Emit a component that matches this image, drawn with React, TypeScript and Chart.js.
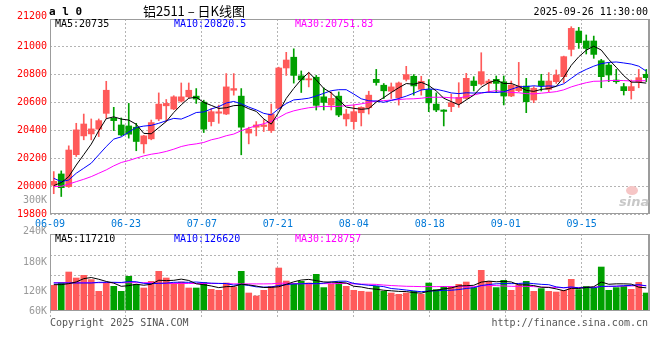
import React, { useEffect, useRef } from "react";
import { Chart, registerables } from "chart.js";

Chart.register(...registerables);

const dates = [
  "06-09","06-10","06-11","06-12","06-13","06-16","06-17","06-18","06-19","06-20",
  "06-23","06-24","06-25","06-26","06-27","06-30","07-01","07-02","07-03","07-04",
  "07-07","07-08","07-09","07-10","07-11","07-14","07-15","07-16","07-17","07-18",
  "07-21","07-22","07-23","07-24","07-25","07-28","07-29","07-30","07-31","08-01",
  "08-04","08-05","08-06","08-07","08-08","08-11","08-12","08-13","08-14","08-15",
  "08-18","08-19","08-20","08-21","08-22","08-25","08-26","08-27","08-28","08-29",
  "09-01","09-02","09-03","09-04","09-05","09-08","09-09","09-10","09-11","09-12",
  "09-15","09-16","09-17","09-18","09-19","09-22","09-23","09-24","09-25","09-26",
];

const opens = [
  20005,20086,19995,20224,20358,20372,20406,20519,20484,20436,
  20429,20420,20301,20337,20479,20573,20550,20606,20637,20642,
  20599,20460,20520,20514,20684,20642,20378,20420,20425,20396,
  20555,20843,20920,20787,20758,20777,20637,20578,20642,20479,
  20460,20523,20559,20762,20720,20677,20630,20762,20784,20691,
  20689,20585,20543,20567,20590,20626,20750,20729,20733,20762,
  20745,20643,20681,20714,20614,20750,20690,20745,20781,20976,
  21107,21036,21036,20895,20864,20757,20710,20681,20745,20798,
];
const highs = [
  20103,20108,20287,20448,20514,20479,20479,20748,20562,20486,
  20590,20448,20362,20471,20665,20618,20645,20736,20736,20696,
  20613,20555,20578,20803,20803,20696,20420,20460,20474,20585,
  20849,20955,20980,20822,20810,20790,20701,20672,20672,20547,
  20578,20566,20677,20833,20732,20736,20743,20855,20796,20784,
  20760,20665,20545,20657,20738,20805,20781,20952,20762,20786,
  20786,20750,20883,20769,20710,20798,20810,20829,20928,21138,
  21133,21079,21071,20905,20881,20833,20733,20757,20833,20833,
];
const lows = [
  19945,19925,19990,20211,20330,20330,20353,20484,20396,20358,
  20342,20252,20235,20330,20467,20460,20545,20600,20630,20590,
  20382,20429,20448,20510,20649,20223,20301,20358,20389,20382,
  20550,20790,20735,20668,20708,20543,20543,20543,20495,20429,
  20406,20429,20514,20720,20625,20625,20578,20750,20649,20649,
  20531,20531,20429,20531,20562,20621,20679,20721,20667,20667,
  20579,20638,20674,20524,20595,20679,20674,20733,20738,20929,
  20983,20943,20912,20702,20745,20733,20650,20621,20702,20745,
];
const closes = [
  20033,19988,20257,20401,20443,20408,20467,20684,20467,20365,
  20370,20318,20358,20453,20585,20590,20637,20637,20684,20621,
  20406,20531,20530,20708,20696,20420,20406,20436,20436,20514,
  20843,20900,20790,20758,20766,20576,20597,20626,20507,20514,
  20531,20562,20649,20739,20680,20708,20736,20796,20715,20748,
  20594,20543,20533,20595,20633,20769,20717,20817,20750,20733,
  20643,20721,20714,20602,20698,20717,20750,20793,20924,21126,
  21024,20983,20940,20781,20793,20745,20681,20710,20774,20774,
];

const ma5 = [
  20003,20024,20067,20150,20224,20299,20395,20481,20494,20478,
  20471,20441,20376,20373,20417,20461,20525,20580,20627,20634,
  20597,20576,20554,20559,20574,20577,20552,20533,20479,20442,
  20527,20626,20697,20761,20811,20758,20697,20665,20614,20564,
  20555,20548,20553,20599,20632,20668,20702,20732,20727,20741,
  20718,20679,20627,20603,20580,20615,20649,20706,20737,20757,
  20732,20733,20712,20683,20676,20690,20696,20712,20776,20862,
  20923,20970,20999,20971,20904,20848,20788,20742,20741,20735,
];
const ma10 = [
  20055,20031,20043,20091,20127,20163,20223,20282,20335,20351,
  20385,20418,20428,20433,20448,20466,20483,20478,20500,20525,
  20529,20550,20567,20593,20604,20587,20564,20544,20519,20508,
  20552,20589,20615,20620,20627,20643,20662,20681,20688,20688,
  20657,20623,20609,20607,20598,20611,20625,20642,20663,20686,
  20693,20691,20679,20665,20660,20666,20664,20666,20670,20668,
  20673,20691,20709,20710,20716,20711,20715,20712,20730,20769,
  20807,20833,20856,20874,20883,20886,20879,20871,20856,20820.5,
];
const ma30 = [
  19995,19998,20014,20031,20048,20067,20091,20115,20144,20168,
  20182,20199,20215,20227,20235,20247,20263,20282,20294,20301,
  20311,20330,20342,20359,20371,20395,20414,20431,20445,20462,
  20489,20519,20537,20549,20559,20565,20569,20567,20569,20574,
  20579,20587,20597,20607,20610,20614,20617,20622,20623,20627,
  20634,20634,20634,20630,20628,20640,20650,20663,20674,20681,
  20674,20668,20666,20660,20658,20663,20668,20674,20687,20708,
  20724,20738,20748,20749,20753,20754,20753,20750,20752,20751.83,
];

const volumes = [
  129800,143400,197000,166700,180300,158600,99500,141400,124700,99500,
  175200,134800,116200,150000,200500,166700,141400,146500,116200,116200,
  143400,109600,104500,141400,121200,200500,90900,75800,104500,124700,
  217200,151500,138400,150000,141400,185300,118200,134800,143400,124700,
  104500,99500,96000,124700,99500,90900,84300,90900,99500,84300,
  141400,108100,124700,124700,134800,146500,118200,205500,150000,118200,
  155000,104500,133300,150000,99500,113100,99500,96000,104500,160100,
  108100,124700,116200,222200,104500,118200,124700,109600,144900,90900,
];
const volMa5 = [
  133100,133100,138200,146600,163400,169200,160400,149300,140900,124700,
  128100,135100,130100,135100,155300,153600,155000,161000,154300,137400,
  132700,126400,118000,123000,124000,135400,131700,126000,118600,119300,
  122600,134700,147300,156400,159700,153300,146700,145900,144600,141300,
  125100,121400,113600,109900,104800,102100,99100,98100,93000,90000,
  100100,104800,111600,116600,126700,127800,129800,145900,151000,147700,
  149400,146600,132200,132200,128500,120100,119100,111600,102500,114600,
  113600,118700,122700,146300,135100,137200,137200,135800,120400,117210,
];
const volMa10 = [
  141500,141500,141500,141500,141500,141500,144900,144900,144900,144100,
  148600,147800,139700,138000,140000,140900,145000,145600,144700,146400,
  143200,140700,139500,138600,130700,134100,129000,122000,120800,121700,
  129000,133200,136600,137500,139500,138000,140700,146600,150500,150500,
  139200,134000,129800,127300,123100,113600,110200,105800,101500,97400,
  101100,102000,104800,104800,108400,113900,117300,128800,133800,137200,
  138600,138200,139100,141600,138100,134700,132900,121900,117400,121600,
  116900,118900,117200,124400,124900,125400,127900,129300,133300,126620,
];
const volMa30 = [
  143000,143000,143000,143000,143000,143000,143000,143000,143000,143000,
  143000,143000,143000,143000,139000,139000,139000,139000,139000,139000,
  139000,139000,139000,139000,137000,137000,137000,137000,137000,137400,
  140300,140600,138600,138000,136700,137600,138300,138000,138700,139500,
  137100,136000,135300,134500,131100,128600,126700,124800,124200,123200,
  123100,123100,123700,123200,123600,121800,122700,127100,128600,128400,
  126300,124700,124600,124600,123200,120800,120100,118800,117500,118700,
  118800,119700,120400,123600,123800,124700,126000,126700,128200,128757,
];

const priceTicks = [19800, 20000, 20200, 20400, 20600, 20800, 21000];
const volGridTicks = [80000, 180000, 280000];
const dateTicks = [0, 10, 20, 30, 40, 50, 60, 70];

const UP = "#ff5a5a";
const DOWN = "#00a000";
const MONO = "'DejaVu Sans Mono', monospace";
const GRID = "#b4b4b4";
const FRAME = "#9c9c9c";

const framePlugin = {
  id: "frame",
  afterDraw(chart: any) {
    const { ctx, chartArea: a } = chart;
    ctx.save();
    ctx.strokeStyle = FRAME;
    ctx.lineWidth = 1;
    const l = Math.round(a.left) + 0.5;
    const t = Math.round(a.top) + 0.5;
    const r = Math.round(a.right) - 0.5;
    const b = Math.round(a.bottom) - 0.5;
    ctx.strokeRect(l, t, r - l, b - t);
    ctx.beginPath();
    ctx.moveTo(r - 1, t);
    ctx.lineTo(r - 1, b);
    ctx.stroke();
    ctx.restore();
  },
};

function lineDs(label: string, data: number[], color: string) {
  return {
    type: "line" as const,
    label,
    data,
    borderColor: color,
    borderWidth: 1,
    pointRadius: 0,
    tension: 0,
    fill: false,
    xAxisID: "x",
    yAxisID: "y",
    order: 0,
  };
}

function gridX(showLabels: boolean, height: number, tickLen: number) {
  return {
    type: "linear" as const,
    position: "bottom" as const,
    min: 0,
    max: dates.length - 1,
    offset: false,
    afterBuildTicks: (s: any) => {
      s.ticks = dateTicks.map((v) => ({ value: v }));
    },
    afterFit: (s: any) => {
      s.height = height;
    },
    ticks: {
      display: showLabels,
      autoSkip: false,
      maxRotation: 0,
      minRotation: 0,
      padding: 4,
      color: "#0078d7",
      font: { family: MONO, size: 10 },
      callback: (v: any) => dates[v as number],
    },
    grid: {
      color: GRID,
      lineWidth: 1,
      drawTicks: tickLen > 0,
      tickLength: tickLen,
      tickColor: GRID,
      tickBorderDash: [2, 2],
      offset: false,
    },
    border: { display: false, dash: [2, 2] },
  };
}

function Txt(props: {
  x: number;
  y: number;
  color?: string;
  align?: "left" | "right" | "center";
  size?: number;
  weight?: string;
  family?: string;
  italic?: boolean;
  children: React.ReactNode;
}) {
  const size = props.size ?? 10;
  const style: React.CSSProperties = {
    position: "absolute",
    top: props.y - size / 2,
    font: `${props.italic ? "italic " : ""}${props.weight ?? "normal"} ${size}px ${props.family ?? MONO}`,
    lineHeight: `${size}px`,
    color: props.color ?? "#000",
    whiteSpace: "pre",
  };
  if (props.align === "right") style.right = 660 - props.x;
  else if (props.align === "center") {
    style.left = props.x;
    style.transform = "translateX(-50%)";
  } else style.left = props.x;
  return <span style={style}>{props.children}</span>;
}

export default function App() {
  const priceRef = useRef<HTMLCanvasElement>(null);
  const volRef = useRef<HTMLCanvasElement>(null);

  useEffect(() => {
    const colors = closes.map((c, i) => (c >= opens[i] ? UP : DOWN));
    const common = {
      responsive: false,
      animation: false as const,
      events: [] as any[],
      plugins: {
        legend: { display: false },
        tooltip: { enabled: false },
        title: { display: false },
      },
    };

    const priceChart = new Chart(priceRef.current as HTMLCanvasElement, {
      type: "bar",
      data: {
        labels: dates,
        datasets: [
          lineDs("MA5", ma5, "#000000"),
          lineDs("MA10", ma10, "#0000ff"),
          lineDs("MA30", ma30, "#ff00ff"),
          {
            type: "bar",
            label: "wick",
            data: lows.map((l, i) => [l, highs[i]]) as any,
            backgroundColor: colors,
            barThickness: 1,
            grouped: false,
            borderSkipped: false,
            xAxisID: "x",
            yAxisID: "y",
            order: 2,
          },
          {
            type: "bar",
            label: "body",
            data: opens.map((o, i) => [o, closes[i]]) as any,
            backgroundColor: colors,
            barThickness: 6,
            minBarLength: 1,
            grouped: false,
            borderSkipped: false,
            xAxisID: "x",
            yAxisID: "y",
            order: 1,
          },
        ],
      } as any,
      options: {
        ...common,
        layout: { padding: { top: 19, right: 10, left: 0, bottom: 0 } },
        scales: {
          x: { type: "category", display: false, offset: true, grid: { display: false } },
          xg: gridX(true, 18, 0),
          y: {
            type: "linear",
            position: "left",
            min: 19800,
            max: 21193,
            afterBuildTicks: (s: any) => {
              s.ticks = priceTicks.map((v) => ({ value: v }));
            },
            afterFit: (s: any) => {
              s.width = 50;
            },
            ticks: {
              color: "#ff0000",
              font: { family: MONO, size: 10 },
              padding: 3,
              callback: (v: any) => String(v),
            },
            grid: { color: GRID, lineWidth: 1, drawTicks: false, tickLength: 0 },
            border: { display: false, dash: [2, 2] },
          },
        },
      } as any,
      plugins: [framePlugin],
    });

    const volChart = new Chart(volRef.current as HTMLCanvasElement, {
      type: "bar",
      data: {
        labels: dates,
        datasets: [
          lineDs("MA5", volMa5, "#000000"),
          lineDs("MA10", volMa10, "#0000ff"),
          lineDs("MA30", volMa30, "#ff00ff"),
          {
            type: "bar",
            label: "volume",
            data: volumes,
            backgroundColor: colors,
            barThickness: 6,
            grouped: false,
            borderSkipped: false,
            xAxisID: "x",
            yAxisID: "y",
            order: 1,
          },
        ],
      } as any,
      options: {
        ...common,
        layout: { padding: { top: 8, right: 10, left: 0, bottom: 0 } },
        scales: {
          x: { type: "category", display: false, offset: true, grid: { display: false } },
          xg: gridX(false, 49, 8),
          y: {
            type: "linear",
            position: "left",
            min: 0,
            max: 389000,
            afterBuildTicks: (s: any) => {
              s.ticks = volGridTicks.map((v) => ({ value: v }));
            },
            afterFit: (s: any) => {
              s.width = 50;
            },
            ticks: { display: false },
            grid: { color: GRID, lineWidth: 1, drawTicks: false, tickLength: 0 },
            border: { display: false, dash: [2, 2] },
          },
        },
      } as any,
      plugins: [framePlugin],
    });

    return () => {
      priceChart.destroy();
      volChart.destroy();
    };
  }, []);

  return (
    <div
      style={{
        position: "fixed",
        left: 0,
        top: 0,
        width: 660,
        height: 360,
        background: "#ffffff",
        overflow: "hidden",
      }}
    >
      <canvas
        ref={priceRef}
        width={660}
        height={232}
        style={{ position: "absolute", left: 0, top: 0, width: 660, height: 232 }}
      />
      <canvas
        ref={volRef}
        width={660}
        height={134}
        style={{ position: "absolute", left: 0, top: 226, width: 660, height: 134 }}
      />

      <Txt x={49} y={11} size={11} weight="bold">a l 0</Txt>
      <Txt x={194} y={10} size={13} align="center" family="'Noto Sans CJK SC', sans-serif">
        铝2511 – 日K线图
      </Txt>
      <Txt x={648} y={12} align="right">2025-09-26 11:30:00</Txt>
      <Txt x={47} y={16} align="right" color="#ff0000">21200</Txt>

      <Txt x={55} y={24}>MA5:20735</Txt>
      <Txt x={174} y={24} color="#0000ff">MA10:20820.5</Txt>
      <Txt x={295} y={24} color="#ff00ff">MA30:20751.83</Txt>

      <Txt x={47} y={200} align="right" color="#999999">300K</Txt>
      <Txt x={47} y={230.5} align="right" color="#999999">240K</Txt>
      <Txt x={47} y={261.5} align="right" color="#999999">180K</Txt>
      <Txt x={47} y={291} align="right" color="#999999">120K</Txt>
      <Txt x={47} y={311} align="right" color="#999999">60K</Txt>

      <Txt x={55} y={239}>MA5:117210</Txt>
      <Txt x={174} y={239} color="#0000ff">MA10:126620</Txt>
      <Txt x={295} y={239} color="#ff00ff">MA30:128757</Txt>

      <div
        style={{
          position: "absolute",
          left: 626,
          top: 186,
          width: 12,
          height: 9,
          borderRadius: "50%",
          background: "#f6c6c6",
        }}
      />
      <Txt x={619} y={201} size={13} weight="bold" italic color="#c8c8c8" family="'DejaVu Sans', sans-serif">
        sina
      </Txt>

      <Txt x={50} y={323} color="#555555">Copyright 2025 SINA.COM</Txt>
      <Txt x={648} y={323} align="right" color="#555555">http://finance.sina.com.cn</Txt>
    </div>
  );
}
